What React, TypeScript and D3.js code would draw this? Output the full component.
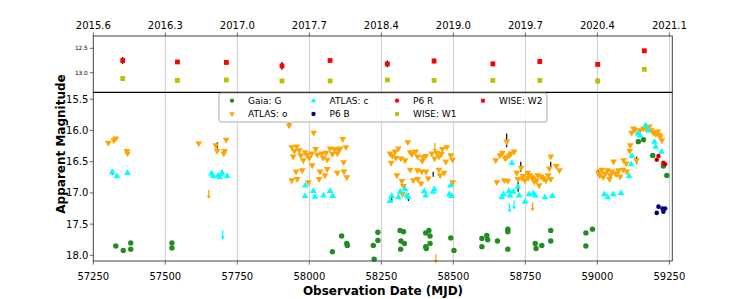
import React from "react";
import * as d3 from "d3";

// ---------- DATA ----------
const xTicks = [57250, 57500, 57750, 58000, 58250, 58500, 58750, 59000, 59250];
const yearLabels = ["2015.6", "2016.3", "2017.0", "2017.7", "2018.4", "2019.0", "2019.7", "2020.4", "2021.1"];
const yTicksMain = [15.5, 16.0, 16.5, 17.0, 17.5, 18.0];
const yTicksTop = [12.5, 13.0];

const gaiaMJD = [57328, 57354, 57380, 57380, 57523, 57523, 58080, 58112, 58130, 58132, 58222, 58225, 58238, 58238, 58315, 58327, 58318, 58330, 58317, 58404, 58415, 58419, 58419, 58404, 58406, 58491, 58502, 58599, 58599, 58616, 58619, 58653, 58689, 58689, 58689, 58784, 58787, 58807, 58838, 58838, 58960, 58983, 58960, 59142, 59160, 59192, 59229, 59241];
const gaiaMag = [17.85, 17.92, 17.80, 17.90, 17.80, 17.88, 17.94, 17.69, 17.81, 17.84, 17.84, 18.06, 17.63, 17.76, 17.60, 17.62, 17.77, 17.81, 17.90, 17.64, 17.60, 17.69, 17.81, 17.86, 17.89, 17.72, 17.92, 17.73, 17.86, 17.68, 17.75, 17.77, 17.58, 17.62, 17.90, 17.81, 17.89, 17.84, 17.60, 17.77, 17.64, 17.58, 17.85, 16.18, 16.15, 16.40, 16.57, 16.72];

const atlasOMJD = [
  57302, 57321, 57328, 57367, 57369,
  57616, 57675, 57680, 57711, 57706, 57703,
  57930, 58015, 58116, 57939, 57956, 57944, 57970, 57979, 57991, 58008, 58022, 58028, 58043, 58058, 58062, 58072, 58087, 58097, 58107, 58127, 58010, 58037, 58062, 58054, 57954, 57975, 57939, 57958, 57997, 58034, 58097, 58120, 58130, 58119, 57948, 57985, 58000, 58048, 58080, 58102, 57965,
  58280, 58288, 58309, 58298, 58284, 58318, 58332, 58342, 58350, 58369, 58376, 58392, 58404, 58425, 58442, 58450, 58462, 58477, 58474, 58491, 58497, 58304, 58321, 58327, 58350, 58361, 58375, 58376, 58388, 58390, 58405, 58413, 58450, 58454, 58468, 58498, 58323, 58435, 58458, 58395, 58356, 58300,
  58647, 58662, 58670, 58685, 58700, 58711, 58651, 58677, 58689, 58720, 58735, 58724, 58738, 58758, 58749, 58772, 58781, 58766, 58778, 58789, 58798, 58812, 58821, 58829, 58838, 58833, 58857, 58868, 58838, 58742, 58760, 58805, 58793, 58680, 58695, 58685,
  59003, 59015, 59027, 59035, 59045, 59042, 59056, 59062, 59073, 59079, 59091, 59089, 59100, 59102, 59114, 59112, 59119, 59125, 59136, 59148, 59160, 59180, 59195, 59210, 59218, 59224, 59008, 59020, 59050, 59067, 59130, 59170, 59188, 59203, 59214
];
const atlasOMag = [
  16.20, 16.16, 16.13, 16.33, 16.37,
  16.21, 16.24, 16.33, 16.15, 16.33, 16.37,
  15.92, 16.04, 16.14, 16.27, 16.26, 16.42, 16.40, 16.48, 16.39, 16.37, 16.30, 16.39, 16.37, 16.36, 16.47, 16.29, 16.30, 16.37, 16.29, 16.27, 16.56, 16.66, 16.62, 16.72, 16.66, 16.64, 16.80, 16.78, 16.83, 16.78, 16.68, 16.66, 16.75, 16.51, 16.33, 16.35, 16.44, 16.44, 16.38, 16.32, 16.32,
  16.37, 16.41, 16.29, 16.34, 16.52, 16.45, 16.48, 16.19, 16.35, 16.34, 16.42, 16.49, 16.41, 16.37, 16.36, 16.42, 16.30, 16.27, 16.50, 16.40, 16.47, 16.72, 16.81, 16.89, 16.63, 16.80, 16.64, 16.78, 16.85, 16.66, 16.66, 16.77, 16.63, 16.72, 16.68, 16.83, 17.02, 16.45, 16.38, 16.43, 16.38, 16.44,
  16.48, 16.40, 16.36, 16.43, 16.37, 16.34, 16.83, 16.80, 16.81, 16.68, 16.60, 16.78, 16.77, 16.68, 16.80, 16.75, 16.82, 16.72, 16.77, 16.80, 16.88, 16.77, 16.80, 16.72, 16.42, 16.61, 16.57, 16.64, 16.78, 16.73, 16.76, 16.74, 16.72, 16.45, 16.40, 16.18,
  16.68, 16.63, 16.69, 16.64, 16.72, 16.78, 16.50, 16.69, 16.64, 16.74, 16.48, 16.63, 16.53, 16.66, 16.24, 16.33, 16.04, 15.97, 16.48, 16.00, 15.97, 15.94, 16.04, 16.02, 16.10, 16.16, 16.72, 16.75, 16.66, 16.70, 15.99, 15.98, 16.00, 16.06, 16.07
];

const atlasCMJD = [
  57316, 57332, 57369,
  57660, 57666, 57683, 57689, 57697, 57715,
  57986, 57985, 58014, 58020, 58049, 58072, 58081,
  58280, 58286, 58309, 58315, 58332, 58338, 58344, 58399, 58404, 58430, 58434, 58486, 58490, 58494,
  58668, 58674, 58693, 58697, 58703, 58708, 58724, 58728, 58749, 58763, 58778, 58784, 58818, 58844,
  59024, 59036, 59055, 59082, 59110, 59117, 59120, 59140, 59148, 59167, 59177, 59198, 59202, 59223
];
const atlasCMag = [
  16.67, 16.73, 16.68,
  16.69, 16.73, 16.72, 16.75, 16.68, 16.73,
  16.88, 17.05, 16.97, 17.06, 17.04, 16.97, 17.05,
  17.13, 17.05, 17.07, 16.98, 16.94, 17.04, 17.07, 16.97, 17.04, 16.98, 16.94, 17.02, 16.88, 17.05,
  17.07, 17.02, 16.97, 17.04, 16.52, 16.98, 16.90, 17.04, 17.14, 17.02, 17.01, 17.04, 17.07, 17.05,
  17.02, 17.07, 17.02, 17.00, 16.73, 16.54, 16.41, 16.05, 16.08, 15.92, 16.00, 16.18, 16.26, 16.34
];

const atlasOLimMJD = [57651, 58436, 58439, 58775];
const atlasOLimMag = [16.95, 16.20, 17.98, 17.15];
const atlasCLimMJD = [57699, 58695, 58711];
const atlasCLimMag = [17.60, 17.17, 17.12];

// error bars on ATLAS points (mjd, mag, err)
const errMJD = [57316, 57680, 57697, 57930, 58344, 58685, 58734, 58725, 58838, 59003, 59136, 58286, 58430];
const errMag = [16.67, 16.24, 16.68, 15.92, 17.07, 16.16, 16.58, 16.90, 16.55, 16.68, 16.48, 17.10, 16.70];
const errVal = [0.04, 0.05, 0.04, 0.04, 0.06, 0.11, 0.08, 0.08, 0.05, 0.05, 0.06, 0.04, 0.04];

const p6rMJD = [59206, 59212, 59229, 59235];
const p6rMag = [16.47, 16.41, 16.52, 16.54];
const p6bMJD = [59206, 59212, 59226, 59229, 59235];
const p6bMag = [17.32, 17.22, 17.25, 17.30, 17.25];

const wiseMJD = [57352, 57542, 57712, 57905, 58072, 58271, 58433, 58637, 58800, 59001, 59163];
const w2Mag = [12.75, 12.78, 12.79, 12.86, 12.75, 12.82, 12.76, 12.82, 12.77, 12.83, 12.55];
const w2Err = [0.07, 0.03, 0.04, 0.08, 0.02, 0.07, 0.05, 0.05, 0.05, 0.02, 0.02];
const w1Mag = [13.12, 13.16, 13.15, 13.17, 13.17, 13.15, 13.16, 13.16, 13.16, 13.17, 12.93];
const w1Err = [0.04, 0.02, 0.02, 0.02, 0.04, 0.04, 0.02, 0.03, 0.02, 0.05, 0.02];

const legendItems = [
  { label: "Gaia: G", kind: "circle", color: "#228b22" },
  { label: "ATLAS: o", kind: "tdown", color: "#ffa500" },
  { label: "ATLAS: c", kind: "tup", color: "#00ffff" },
  { label: "P6 B", kind: "circle", color: "#000080" },
  { label: "P6 R", kind: "circle", color: "#ff0000" },
  { label: "WISE: W1", kind: "square", color: "#bfbf00" },
  { label: "WISE: W2", kind: "square", color: "#ff0000" },
];

// ---------- LAYOUT ----------
const W = 747, H = 299;
const L = 93.3, R = 672.3;
const topT = 36, topB = 92.3, mainB = 261;
const FONT = "DejaVu Sans, sans-serif";

const x = d3.scaleLinear().domain([57250, 59260]).range([L, R]);
const yTop = d3.scaleLinear().domain([12.247, 13.403]).range([topT, topB]);
const y = d3.scaleLinear().domain([15.39, 18.09]).range([topB, mainB]);

function Marker({ kind, cx, cy, color, s = 1 }: any) {
  if (kind === "circle") return <circle cx={cx} cy={cy} r={2.7 * s} fill={color} />;
  if (kind === "square") return <rect x={cx - 2.4 * s} y={cy - 2.4 * s} width={4.8 * s} height={4.8 * s} fill={color} />;
  const h = 3.4 * s, w = 3.4 * s;
  if (kind === "tdown")
    return <path d={`M${cx - w},${cy - h * 0.6}L${cx + w},${cy - h * 0.6}L${cx},${cy + h * 1.1}Z`} fill={color} />;
  return <path d={`M${cx - w},${cy + h * 0.6}L${cx + w},${cy + h * 0.6}L${cx},${cy - h * 1.1}Z`} fill={color} />;
}

function Arrow({ cx, cy, color }: any) {
  const len = 9;
  return (
    <g>
      <line x1={cx} x2={cx} y1={cy} y2={cy + len - 2} stroke={color} strokeWidth={1.3} />
      <path d={`M${cx - 2.2},${cy + len - 3}L${cx + 2.2},${cy + len - 3}L${cx},${cy + len}Z`} fill={color} />
    </g>
  );
}

export default function App() {
  return (
    <svg width={W} height={H} style={{ position: "absolute", left: 0, top: 0, fontFamily: FONT }}>
      <rect width={W} height={H} fill="#fff" />
      {/* grid */}
      {xTicks.map((t, i) => (
        <g key={"g" + i}>
          {i > 0 && <line x1={x(t)} x2={x(t)} y1={topT} y2={mainB} stroke="#c8c8c8" strokeWidth={0.9} />}
        </g>
      ))}

      {/* top panel: WISE */}
      {wiseMJD.map((m, i) => (
        <g key={"w1" + i}>
          <line x1={x(m)} x2={x(m)} y1={yTop(w1Mag[i] - w1Err[i])} y2={yTop(w1Mag[i] + w1Err[i])} stroke="#000" strokeWidth={1.2} />
          <Marker kind="square" cx={x(m)} cy={yTop(w1Mag[i])} color="#bfbf00" />
        </g>
      ))}
      {wiseMJD.map((m, i) => (
        <g key={"w2" + i}>
          <line x1={x(m)} x2={x(m)} y1={yTop(w2Mag[i] - w2Err[i])} y2={yTop(w2Mag[i] + w2Err[i])} stroke="#000" strokeWidth={1.2} />
          <Marker kind="square" cx={x(m)} cy={yTop(w2Mag[i])} color="#ff0000" />
        </g>
      ))}

      {/* main panel */}
      {errMJD.map((m, i) => (
        <line key={"e" + i} x1={x(m)} x2={x(m)} y1={y(errMag[i] - errVal[i])} y2={y(errMag[i] + errVal[i])} stroke="#000" strokeWidth={1.2} />
      ))}
      {gaiaMJD.map((m, i) => (
        <Marker key={"ga" + i} kind="circle" cx={x(m)} cy={y(gaiaMag[i])} color="#228b22" />
      ))}
      {atlasOMJD.map((m, i) => (
        <Marker key={"ao" + i} kind="tdown" cx={x(m)} cy={y(atlasOMag[i])} color="#ffa500" />
      ))}
      {atlasOLimMJD.map((m, i) => (
        <Arrow key={"aol" + i} cx={x(m)} cy={y(atlasOLimMag[i])} color="#ffa500" />
      ))}
      {atlasCMJD.map((m, i) => (
        <Marker key={"ac" + i} kind="tup" cx={x(m)} cy={y(atlasCMag[i])} color="#00ffff" />
      ))}
      {atlasCLimMJD.map((m, i) => (
        <Arrow key={"acl" + i} cx={x(m)} cy={y(atlasCLimMag[i])} color="#00ffff" />
      ))}
      {p6bMJD.map((m, i) => (
        <Marker key={"pb" + i} kind="circle" cx={x(m)} cy={y(p6bMag[i])} color="#000080" s={0.85} />
      ))}
      {p6rMJD.map((m, i) => (
        <g key={"pr" + i}>
          <Marker kind="circle" cx={x(m)} cy={y(p6rMag[i])} color="#ff0000" s={0.85} />
          <line x1={x(m)} x2={x(m)} y1={y(p6rMag[i] - 0.02)} y2={y(p6rMag[i] + 0.02)} stroke="#000" strokeWidth={1} />
        </g>
      ))}

      {/* spines */}
      <rect x={L} y={topT} width={R - L} height={mainB - topT} fill="none" stroke="#444" strokeWidth={1} />
      <line x1={L} x2={R} y1={topB} y2={topB} stroke="#000" strokeWidth={1.2} />

      {/* top axis ticks & year labels */}
      {xTicks.map((t, i) => (
        <g key={"tt" + i}>
          <line x1={x(t)} x2={x(t)} y1={topT} y2={topT - 3.5} stroke="#444" strokeWidth={0.8} />
          <text x={x(t)} y={29} fontSize={10} textAnchor="middle" fill="#000">{yearLabels[i]}</text>
        </g>
      ))}
      {/* bottom ticks */}
      {xTicks.map((t, i) => (
        <g key={"bt" + i}>
          <line x1={x(t)} x2={x(t)} y1={mainB} y2={mainB + 3.5} stroke="#444" strokeWidth={0.8} />
          <text x={x(t)} y={280} fontSize={10} textAnchor="middle" fill="#000">{t}</text>
        </g>
      ))}
      {/* top y ticks */}
      {yTicksTop.map((t, i) => (
        <g key={"yt" + i}>
          <line x1={L} x2={L - 3.5} y1={yTop(t)} y2={yTop(t)} stroke="#444" strokeWidth={0.8} />
          <text x={L - 5.5} y={yTop(t) + 2} fontSize={5.8} textAnchor="end" fill="#000">{t.toFixed(1)}</text>
        </g>
      ))}
      {/* main y ticks */}
      {yTicksMain.map((t, i) => (
        <g key={"ym" + i}>
          <line x1={L} x2={L - 3.5} y1={y(t)} y2={y(t)} stroke="#444" strokeWidth={0.8} />
          <text x={L - 5} y={y(t) + 3.6} fontSize={10} textAnchor="end" fill="#000">{t.toFixed(1)}</text>
        </g>
      ))}

      {/* axis labels */}
      <text x={383} y={295} fontSize={12} fontWeight="bold" textAnchor="middle" fill="#000">Observation Date (MJD)</text>
      <text transform={`translate(64.5,144) rotate(-90)`} fontSize={12} fontWeight="bold" textAnchor="middle" fill="#000">Apparent Magnitude</text>

      {/* legend */}
      <g>
        <rect x={219} y={93} width={328} height={29} rx={2} fill="#fff" fillOpacity={0.85} stroke="#999" strokeWidth={0.8} />
        {legendItems.map((it, i) => {
          const col = Math.floor(i / 2), row = i % 2;
          const colX = [232, 313.5, 397, 483][col];
          const cy = 100.7 + row * 13.3;
          return (
            <g key={"lg" + i}>
              <Marker kind={it.kind} cx={colX} cy={cy} color={it.color} s={0.8} />
              <text x={colX + 16} y={cy + 3.3} fontSize={9} fill="#000">{it.label}</text>
            </g>
          );
        })}
      </g>
    </svg>
  );
}
